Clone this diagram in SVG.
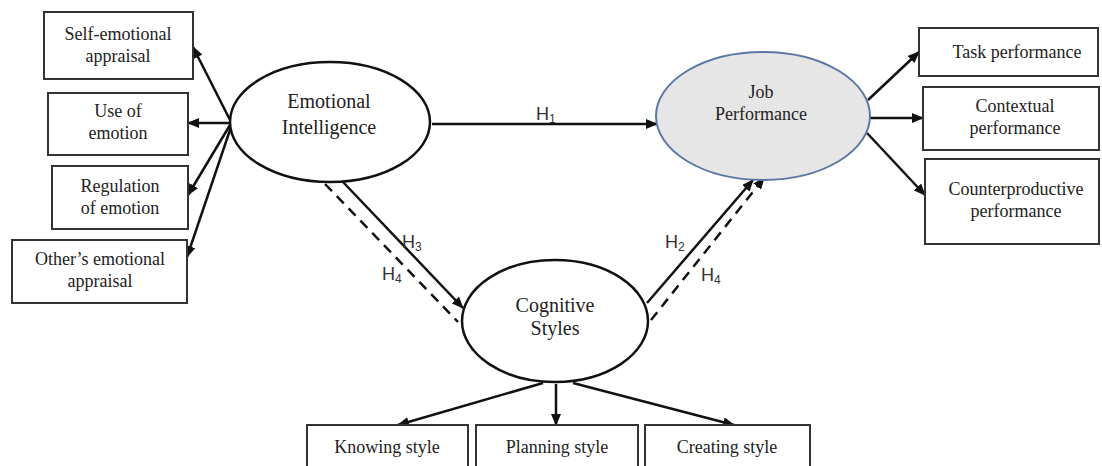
<svg xmlns="http://www.w3.org/2000/svg" width="1102" height="466" viewBox="0 0 1102 466">
<style>
.box{fill:#fff;stroke:#333;stroke-width:2}
.ell{fill:#fff;stroke:#111;stroke-width:2.5}
.t{font-family:"Liberation Serif","Times New Roman",serif;font-size:18px;fill:#222;text-anchor:middle}
.te{font-family:"Liberation Serif","Times New Roman",serif;font-size:20px;fill:#222;text-anchor:middle}
.h{font-family:"Liberation Sans",Arial,sans-serif;font-size:18px;fill:#333}
.ln{stroke:#111;stroke-width:2.5;fill:none}
.dash{stroke-dasharray:10 7}
</style>
<defs>
<marker id="arr" markerWidth="12" markerHeight="10" refX="11" refY="5" orient="auto" markerUnits="userSpaceOnUse">
<path d="M0,0 L12,5 L0,10 Z" fill="#111"/>
</marker>
</defs>
<rect width="1102" height="466" fill="#fff"/>
<g id="connectors">
<line class="ln" x1="230" y1="120" x2="193" y2="47" marker-end="url(#arr)"/>
<line class="ln" x1="230" y1="123" x2="188" y2="123" marker-end="url(#arr)"/>
<line class="ln" x1="230" y1="125" x2="188" y2="195" marker-end="url(#arr)"/>
<line class="ln" x1="231" y1="127" x2="187" y2="257" marker-end="url(#arr)"/>
<line class="ln" x1="432" y1="124" x2="657" y2="124" marker-end="url(#arr)"/>
<line class="ln" x1="868" y1="100" x2="919" y2="52" marker-end="url(#arr)"/>
<line class="ln" x1="870" y1="118" x2="923" y2="118" marker-end="url(#arr)"/>
<line class="ln" x1="867" y1="133" x2="925" y2="195" marker-end="url(#arr)"/>
<line class="ln" x1="343" y1="182" x2="463" y2="308" marker-end="url(#arr)"/>
<line class="ln dash" x1="325" y1="184" x2="458" y2="322"/>
<line class="ln" x1="647" y1="303" x2="753" y2="180" marker-end="url(#arr)"/>
<line class="ln dash" x1="651" y1="320" x2="764" y2="178" marker-end="url(#arr)"/>
<line class="ln" x1="543" y1="383" x2="398" y2="425" marker-end="url(#arr)"/>
<line class="ln" x1="556" y1="384" x2="556" y2="425" marker-end="url(#arr)"/>
<line class="ln" x1="573" y1="383" x2="734" y2="425" marker-end="url(#arr)"/>
</g>
<g id="labels">
<text class="h" x="536" y="120">H<tspan font-size="12" dy="3">1</tspan></text>
<text class="h" x="402" y="248">H<tspan font-size="12" dy="3">3</tspan></text>
<text class="h" x="382" y="280">H<tspan font-size="12" dy="3">4</tspan></text>
<text class="h" x="665" y="248">H<tspan font-size="12" dy="3">2</tspan></text>
<text class="h" x="701" y="281">H<tspan font-size="12" dy="3">4</tspan></text>
</g>
<g id="ei">
<ellipse class="ell" cx="330" cy="122" rx="100" ry="60"/>
<text class="te" x="329" y="108">Emotional</text>
<text class="te" x="329" y="134">Intelligence</text>
</g>
<g id="jp">
<ellipse cx="763" cy="116" rx="107" ry="64" fill="#e6e6e6" stroke="#5a78a3" stroke-width="2"/>
<text class="t" x="761" y="98">Job</text>
<text class="t" x="761" y="120">Performance</text>
</g>
<g id="cs">
<ellipse class="ell" cx="555" cy="321" rx="93" ry="61"/>
<text class="te" x="555" y="312">Cognitive</text>
<text class="te" x="555" y="335">Styles</text>
</g>
<g id="sea">
<rect class="box" x="44" y="12" width="149" height="67"/>
<text class="t" x="118" y="40">Self-emotional</text>
<text class="t" x="118" y="62">appraisal</text>
</g>
<g id="uoe">
<rect class="box" x="48" y="93" width="140" height="62"/>
<text class="t" x="118" y="117">Use of</text>
<text class="t" x="118" y="139">emotion</text>
</g>
<g id="roe">
<rect class="box" x="52" y="166" width="136" height="63"/>
<text class="t" x="120" y="192">Regulation</text>
<text class="t" x="120" y="214">of emotion</text>
</g>
<g id="oea">
<rect class="box" x="12" y="240" width="175" height="63"/>
<text class="t" x="100" y="265">Other’s emotional</text>
<text class="t" x="100" y="287">appraisal</text>
</g>
<g id="tp">
<rect class="box" x="919" y="28" width="179" height="48"/>
<text class="t" x="1017" y="58">Task performance</text>
</g>
<g id="cp">
<rect class="box" x="923" y="87" width="176" height="63"/>
<text class="t" x="1015" y="112">Contextual</text>
<text class="t" x="1015" y="134">performance</text>
</g>
<g id="cpp">
<rect class="box" x="925" y="159" width="174" height="85"/>
<text class="t" x="1016" y="195">Counterproductive</text>
<text class="t" x="1016" y="217">performance</text>
</g>
<g id="ks">
<rect class="box" x="307" y="425" width="161" height="50"/>
<text class="t" x="387" y="453">Knowing style</text>
</g>
<g id="ps">
<rect class="box" x="476" y="425" width="162" height="50"/>
<text class="t" x="557" y="453">Planning style</text>
</g>
<g id="crs">
<rect class="box" x="645" y="425" width="165" height="50"/>
<text class="t" x="727" y="453">Creating style</text>
</g>
</svg>
